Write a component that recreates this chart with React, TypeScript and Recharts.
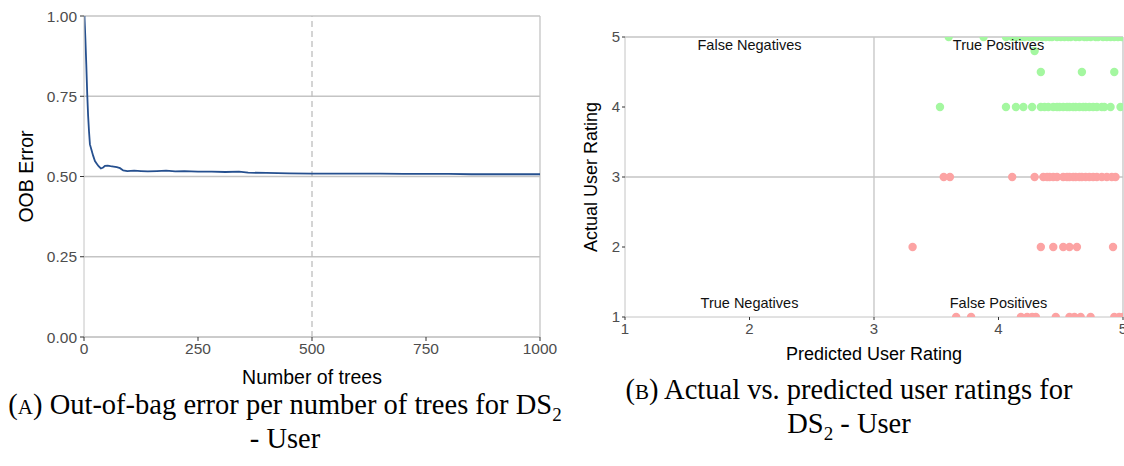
import React from 'react';
import {
  LineChart,
  Line,
  XAxis,
  YAxis,
  CartesianGrid,
  ReferenceLine,
  ReferenceDot,
  ScatterChart,
  Scatter,
} from 'recharts';

// OOB error curve
const oobTrees = [1, 3, 5, 7, 9, 11, 13, 16, 20, 24, 28, 32, 37, 42, 46, 52, 58, 65, 72, 79, 86, 95, 110, 125, 140, 160, 180, 200, 220, 250, 280, 310, 340, 360, 400, 450, 500, 550, 600, 650, 700, 750, 800, 850, 900, 950, 1000];
const oobError = [1.0, 0.93, 0.85, 0.76, 0.69, 0.64, 0.6, 0.585, 0.565, 0.548, 0.54, 0.532, 0.525, 0.528, 0.533, 0.534, 0.532, 0.531, 0.529, 0.526, 0.519, 0.517, 0.518, 0.517, 0.516, 0.517, 0.518, 0.516, 0.517, 0.515, 0.515, 0.514, 0.515, 0.512, 0.511, 0.51, 0.509, 0.509, 0.509, 0.509, 0.508, 0.508, 0.508, 0.507, 0.507, 0.507, 0.507];
const oobTicksX = [0, 250, 500, 750, 1000];
const oobTicksY = [0, 0.25, 0.5, 0.75, 1];

// predicted ratings per actual rating row
const pred5 = [3.6, 3.88, 4.06, 4.11, 4.14, 4.18, 4.21, 4.25, 4.27, 4.31, 4.35, 4.38, 4.41, 4.43, 4.47, 4.5, 4.53, 4.56, 4.58, 4.62, 4.65, 4.69, 4.71, 4.74, 4.78, 4.8, 4.84, 4.87, 4.9, 4.93, 4.96, 4.99];
const pred48 = [4.29];
const pred45 = [4.34, 4.67, 4.93];
const pred4 = [3.53, 4.06, 4.14, 4.2, 4.27, 4.34, 4.37, 4.4, 4.44, 4.47, 4.49, 4.52, 4.55, 4.57, 4.6, 4.62, 4.65, 4.68, 4.7, 4.73, 4.76, 4.79, 4.83, 4.85, 4.9, 4.98];
const pred3 = [3.56, 3.61, 4.11, 4.29, 4.36, 4.39, 4.41, 4.44, 4.47, 4.52, 4.55, 4.57, 4.6, 4.62, 4.65, 4.67, 4.7, 4.73, 4.76, 4.79, 4.83, 4.87, 4.91, 4.94];
const pred2 = [3.31, 4.34, 4.44, 4.52, 4.57, 4.63, 4.92];
const pred1 = [3.66, 3.78, 4.18, 4.23, 4.27, 4.3, 4.46, 4.57, 4.61, 4.66, 4.74, 4.93, 4.97, 5.0];
const ratingTicks = [1, 2, 3, 4, 5];

const oobData = oobTrees.map((t, i) => ({ trees: t, error: oobError[i] }));
const row = (preds: number[], actual: number) => preds.map((p) => ({ predicted: p, actual }));
const positives = [...row(pred5, 5), ...row(pred48, 4.8), ...row(pred45, 4.5), ...row(pred4, 4)];
const negatives = [...row(pred3, 3), ...row(pred2, 2), ...row(pred1, 1)];

const GRID = '#c4c4c4';
const FONT = 'Liberation Sans, Arial, sans-serif';
const tickLeft = { fontSize: 15.5, fill: '#4d4d4d', fontFamily: FONT };
const tickRight = { fontSize: 15, fill: '#4d4d4d', fontFamily: FONT };
const titleLeft = { fontSize: 19.5, fill: '#000', fontFamily: FONT };
const titleRight = { fontSize: 18, fill: '#000', fontFamily: FONT };

const dot = (color: string) => (props: any) => (
  <circle cx={props.cx} cy={props.cy} r={4.2} fill={color} />
);

const quadLabel = (text: string) => ({
  value: text,
  position: 'center' as const,
  fill: '#111',
  fontSize: 14.5,
  fontFamily: FONT,
});

const captionStyle: React.CSSProperties = {
  position: 'absolute',
  fontFamily: 'Liberation Serif, serif',
  fontSize: 28.5,
  color: '#000',
  textAlign: 'center',
  whiteSpace: 'nowrap',
  lineHeight: '31px',
};
const subStyle: React.CSSProperties = { fontSize: 19, position: 'relative', top: 7 };
const capStyle: React.CSSProperties = { fontSize: 21 };

export default function App() {
  return (
    <div style={{ position: 'absolute', left: 0, top: 0, width: 1124, height: 466, overflow: 'hidden', background: '#fff' }}>
      <div style={{ position: 'absolute', left: 0, top: 0 }}>
        <LineChart width={560} height={390} data={oobData} margin={{ top: 16, right: 20, left: 0, bottom: 5 }}>
          <CartesianGrid vertical={false} stroke={GRID} strokeWidth={1.3} />
          <XAxis
            dataKey="trees"
            type="number"
            domain={[0, 1000]}
            ticks={oobTicksX}
            allowDataOverflow
            height={48}
            tick={tickLeft}
            tickSize={4}
            tickMargin={2}
            stroke={GRID}
            tickLine={{ stroke: '#333' }}
            label={{ value: 'Number of trees', position: 'insideBottom', offset: 1, style: titleLeft }}
          />
          <YAxis
            type="number"
            domain={[0, 1]}
            ticks={oobTicksY}
            allowDataOverflow
            width={84}
            tick={tickLeft}
            tickFormatter={(v: number) => v.toFixed(2)}
            tickSize={4}
            tickMargin={3}
            stroke={GRID}
            tickLine={{ stroke: '#333' }}
            label={{ value: 'OOB Error', angle: -90, position: 'insideLeft', offset: 26, style: { ...titleLeft, textAnchor: 'middle' } }}
          />
          <ReferenceLine x={1000} stroke={GRID} strokeWidth={1.3} />
          <ReferenceLine x={500} stroke="#bdbdbd" strokeWidth={1.3} strokeDasharray="6 4" />
          <Line type="linear" dataKey="error" stroke="#26508f" strokeWidth={1.8} dot={false} isAnimationActive={false} />
        </LineChart>
      </div>

      <div style={{ position: 'absolute', left: 560, top: 0 }}>
        <ScatterChart width={580} height={380} margin={{ top: 37, right: 17, left: 0, bottom: 18 }}>
          <XAxis
            dataKey="predicted"
            type="number"
            domain={[1, 5]}
            ticks={ratingTicks}
            allowDataOverflow
            height={45}
            tick={tickRight}
            tickSize={3}
            tickMargin={3}
            stroke={GRID}
            tickLine={{ stroke: '#333' }}
            label={{ value: 'Predicted User Rating', position: 'insideBottom', offset: 2, style: titleRight }}
          />
          <YAxis
            dataKey="actual"
            type="number"
            domain={[1, 5]}
            ticks={ratingTicks}
            allowDataOverflow
            width={65}
            tick={tickRight}
            tickSize={3}
            tickMargin={2}
            stroke={GRID}
            tickLine={{ stroke: '#333' }}
            label={{ value: 'Actual User Rating', angle: -90, position: 'insideLeft', offset: 31, style: { ...titleRight, textAnchor: 'middle' } }}
          />
          <ReferenceLine y={5} stroke={GRID} strokeWidth={1.3} />
          <ReferenceLine y={3} stroke={GRID} strokeWidth={1.3} />
          <ReferenceLine x={3} stroke={GRID} strokeWidth={1.3} />
          <ReferenceLine x={5} stroke={GRID} strokeWidth={1.3} />
          <Scatter data={positives} shape={dot('#a4f7a0')} isAnimationActive={false} />
          <Scatter data={negatives} shape={dot('#fca3a3')} isAnimationActive={false} />
          <ReferenceDot x={2} y={4.886} r={0} fill="none" stroke="none" label={quadLabel('False Negatives')} />
          <ReferenceDot x={4} y={4.886} r={0} fill="none" stroke="none" label={quadLabel('True Positives')} />
          <ReferenceDot x={2} y={1.2} r={0} fill="none" stroke="none" label={quadLabel('True Negatives')} />
          <ReferenceDot x={4} y={1.2} r={0} fill="none" stroke="none" label={quadLabel('False Positives')} />
        </ScatterChart>
      </div>

      <div style={{ ...captionStyle, left: 0, width: 570, top: 389 }}>
        (<span style={capStyle}>A</span>) Out-of-bag error per number of trees for DS<span style={subStyle}>2</span>
        <br />- User
      </div>
      <div style={{ ...captionStyle, left: 600, width: 498, top: 374 }}>
        (<span style={capStyle}>B</span>) Actual vs. predicted user ratings for
        <br />DS<span style={subStyle}>2</span> - User
      </div>
    </div>
  );
}
